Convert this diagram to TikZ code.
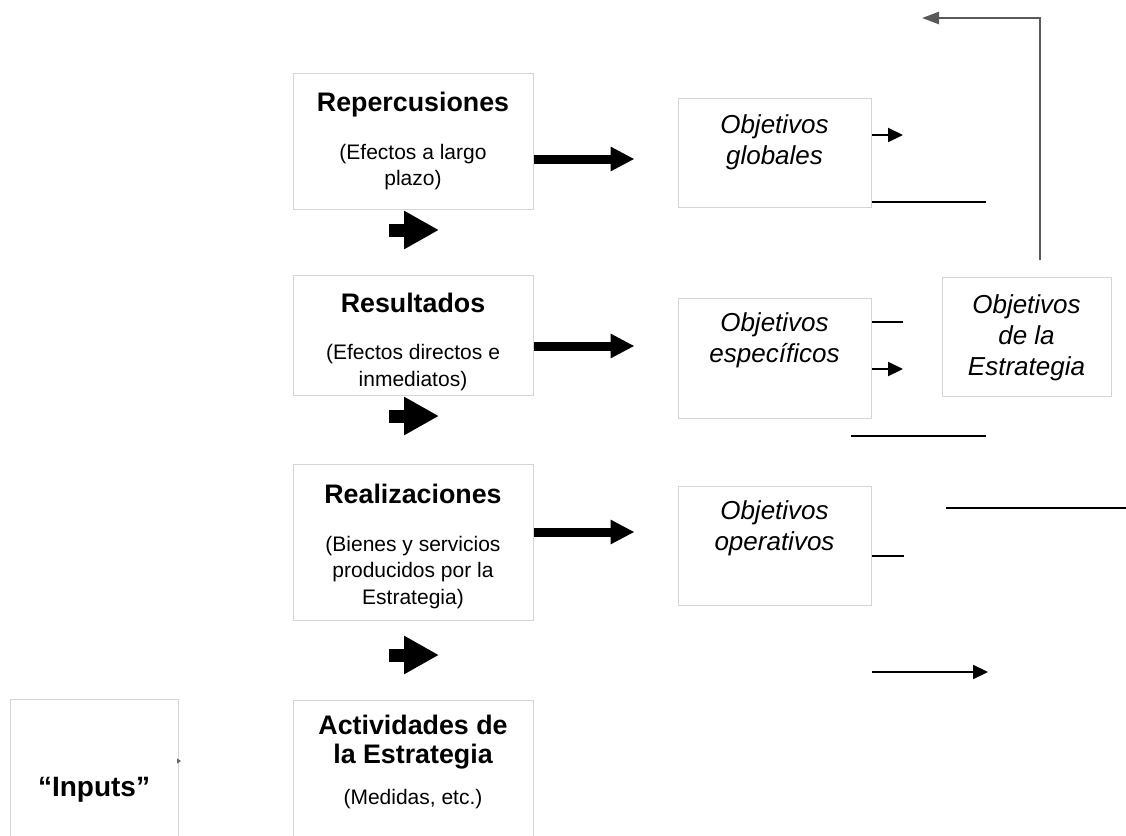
\documentclass[tikz,border=0pt]{standalone}
\usepackage{fontspec}
\setmainfont{Liberation Sans}
\usetikzlibrary{arrows.meta,positioning}
\newcommand{\headfont}{\fontsize{13.4}{14.5}\selectfont\bfseries}
\newcommand{\bodyfont}{\fontsize{10.5}{13.2}\selectfont\mdseries}
\tikzset{
    box/.style={draw=black!17, line width=0.5pt, inner sep=0pt},
    boxtext/.style={inner sep=0pt, align=center, anchor=north, font=\bodyfont},
    goaltext/.style={inner sep=0pt, align=center, anchor=north, font=\fontsize{13}{15.5}\selectfont\itshape},
    thickarrow/.style={-{Triangle[length=12pt,width=11.5pt]}, line width=4.5pt},
    blockarrow/.style={-{Triangle[length=17.5pt,width=18pt]}, line width=6.5pt},
    link/.style={line width=1.1pt},
    linkarrow/.style={link, -{Triangle[length=7.5pt,width=7pt]}},
    backlink/.style={draw=black!65, line width=1.3pt, -{Triangle[length=8.5pt,width=6pt]}}
}

\begin{document}
\begin{tikzpicture}[x=0.5pt, y=-0.5pt]
\useasboundingbox (0,0) rectangle (1126,836);
\clip (0,0) rectangle (1126,836);
\fill[white] (0,0) rectangle (1126,836);

% Nodes
\node[box, minimum width=120pt, minimum height=68pt] (rep) at (413,141) {};
\node[box, minimum width=120pt, minimum height=60pt, below=32.5pt of rep] (res) {};
\node[box, minimum width=120pt, minimum height=78pt, below=34pt of res] (rea) {};
\node[box, minimum width=120pt, minimum height=100pt, below=39.5pt of rea] (act) {};
\node[box, minimum width=84pt, minimum height=100pt, anchor=north] (inp) at (94,699) {};

\node[box, minimum width=96.5pt, minimum height=54.5pt] (glob) at (774.5,152.5) {};
\node[box, minimum width=96.5pt, minimum height=60pt] (esp) at (774.5,358) {};
\node[box, minimum width=96.5pt, minimum height=59.5pt] (ope) at (774.5,545.5) {};
\node[box, minimum width=84.5pt, minimum height=59.5pt] (est) at (1026.5,336.5) {};

% Texts
\node[boxtext, below=9.5pt of rep.north] (rep-t) {{\headfont Repercusiones}\\[10.8pt](Efectos a largo\\plazo)};
\node[boxtext, below=9pt of res.north] (res-t) {{\headfont Resultados}\\[10.5pt](Efectos directos e\\inmediatos)};
\node[boxtext, below=10pt of rea.north] (rea-t) {{\headfont Realizaciones}\\[10.8pt](Bienes y servicios\\producidos por la\\Estrategia)};
\node[boxtext, font=\headfont, below=7.5pt of act.north] (act-t) {Actividades de\\la Estrategia\\[6pt]{\bodyfont (Medidas, etc.)}};
\node[boxtext, font=\fontsize{14}{16}\selectfont\bfseries, below=39pt of inp.north] (inp-t) {“Inputs”};

\node[goaltext, below=8.5pt of glob.north] (glob-t) {Objetivos\\globales};
\node[goaltext, below=7.5pt of esp.north] (esp-t) {Objetivos\\específicos};
\node[goaltext, below=7.5pt of ope.north] (ope-t) {Objetivos\\operativos};
\node[goaltext, below=9pt of est.north] (est-t) {Objetivos\\de la\\Estrategia};

% Paths (levels to objectives)
\coordinate (r1) at (0,159);
\coordinate (r2) at (0,346);
\coordinate (r3) at (0,532);
\draw[thickarrow, shorten >=21.5pt] (rep.east |- r1) -- (glob.west |- r1);
\draw[thickarrow, shorten >=21.5pt] (res.east |- r2) -- (esp.west |- r2);
\draw[thickarrow, shorten >=21.5pt] (rea.east |- r3) -- (ope.west |- r3);

% Block arrows between levels
\foreach \y [count=\i] in {230,416,655}{
  \coordinate (fs\i) at (389,\y);
  \coordinate (fe\i) at (439,\y);
  \draw[blockarrow] (fs\i) -- (fe\i);
}

% Right side lines
\coordinate (g1) at (903,135);
\coordinate (g2) at (986,202);
\draw[linkarrow] (glob.east |- g1) -- (g1);
\draw[link] (glob.east |- g2) -- (g2);

\coordinate (e1) at (903,322);
\coordinate (e2) at (903,369);
\coordinate (e3a) at (851,436);
\coordinate (e3b) at (986,436);
\draw[link] (esp.east |- e1) -- (e1);
\draw[linkarrow] (esp.east |- e2) -- (e2);
\draw[link] (e3a) -- (e3b);

\coordinate (o1) at (904,556);
\coordinate (o2a) at (946,508);
\coordinate (o2b) at (1130,508);
\coordinate (o3) at (988,672);
\draw[link] (ope.east |- o1) -- (o1);
\draw[link] (o2a) -- (o2b);
\draw[linkarrow] (ope.east |- o3) -- (o3);

% Feedback from the strategy
\coordinate (gs) at (1040,260);
\coordinate (ge) at (922,18);
\draw[backlink] (gs) |- (ge);

\coordinate (tk) at (181,761);
\draw[black!60, -{Triangle[length=2pt,width=2.5pt]}, line width=0.4pt] (inp.east |- tk) -- (tk);

\end{tikzpicture}
\end{document}
